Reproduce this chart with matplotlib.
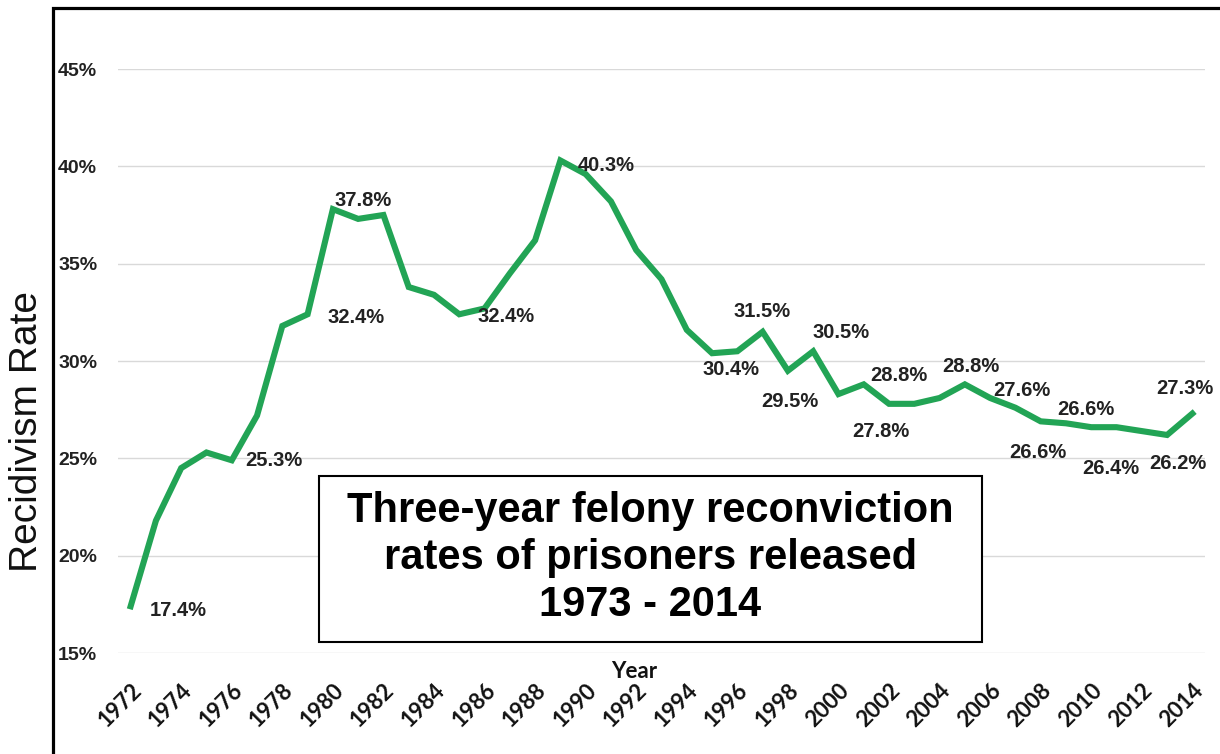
import matplotlib
matplotlib.use('Agg')
import matplotlib.pyplot as plt
from matplotlib.patches import Rectangle

# --- data ---
years = list(range(1972, 2015))
rates = [17.4, 21.8, 24.5, 25.3, 24.9, 27.2, 31.8, 32.4, 37.8, 37.3,
         37.5, 33.8, 33.4, 32.4, 32.7, 34.5, 36.2, 40.3, 39.6, 38.2,
         35.7, 34.2, 31.6, 30.4, 30.5, 31.5, 29.5, 30.5, 28.3, 28.8,
         27.8, 27.8, 28.1, 28.8, 28.1, 27.6, 26.9, 26.8, 26.6, 26.6,
         26.4, 26.2, 27.3]
y_ticks = [15, 20, 25, 30, 35, 40, 45]
y_ticklabels = ['15%', '20%', '25%', '30%', '35%', '40%', '45%']
x_ticks = list(range(1972, 2015, 2))
x_ticklabels = [str(y) for y in x_ticks]

# data labels: year the label belongs to and its text
label_years = [1972, 1976, 1979, 1980, 1986, 1989, 1995, 1997, 1998, 1999,
               2001, 2002, 2005, 2007, 2008, 2010, 2012, 2013, 2014]
label_texts = ['17.4%', '25.3%', '32.4%', '37.8%', '32.4%', '40.3%', '30.4%',
               '31.5%', '29.5%', '30.5%', '28.8%', '27.8%', '28.8%', '27.6%',
               '26.6%', '26.6%', '26.4%', '26.2%', '27.3%']
# where each label sits relative to its point (pixels, y up)
label_offsets = [(48, -4), (42, 0), (48, -3), (30, 9), (22, -8), (46, -5),
                 (19, -16), (-1, 20), (2, -31), (28, 19), (35, 9), (-8, -28),
                 (6, 18), (6, 17), (-3, -31), (-5, 18), (-31, -37), (11, -29),
                 (-7, 25)]

title = 'Three-year felony reconviction\nrates of prisoners released\n1973 - 2014'

W, H = 1220, 754
fig = plt.figure(figsize=(W / 100, H / 100), dpi=100)
fig.patch.set_facecolor('white')

# plot area in pixel terms -> figure fractions
left, right, top, bottom = 118, 1205, 69, 653
ax = fig.add_axes([left / W, 1 - bottom / H, (right - left) / W, (bottom - top) / H])

ax.plot(years, rates, color='#22a455', lw=4.4, solid_joinstyle='miter', zorder=3)

ax.set_xlim(1971.5, 2014.5)
ax.set_ylim(15, 45)
ax.set_yticks(y_ticks, labels=y_ticklabels, fontsize=14, fontweight='bold',
              family='Liberation Sans', color='#222222')
ax.set_xticks(x_ticks, labels=x_ticklabels, fontsize=16, fontweight='bold',
              family='Lato', color='#111111', rotation=45, ha='right', va='top',
              rotation_mode='anchor')
ax.grid(axis='y', color='#d9d9d9', lw=1.0)
ax.set_axisbelow(True)
for s in ax.spines.values():
    s.set_visible(False)

ax.tick_params(axis='y', length=0, pad=15)
ax.tick_params(axis='x', length=0, pad=19)

# data labels
for yr, txt, off in zip(label_years, label_texts, label_offsets):
    v = rates[years.index(yr)]
    ax.annotate(txt, xy=(yr, v), xytext=off, textcoords='offset pixels',
                ha='center', va='center', fontsize=14.5, fontweight='bold',
                family='Liberation Sans', color='#222222', zorder=4)

# axis titles
fig.text(27 / W, 1 - 432 / H, 'Recidivism Rate', rotation=90, ha='center', va='center',
         fontsize=28, family='Liberation Sans', color='#111111')
fig.text(634 / W, 1 - 671 / H, 'Year', ha='center', va='center',
         fontsize=16, family='Lato', fontweight='bold', color='#111111')

# title box
bx0, by0, bx1, by1 = 319, 476, 982, 642
fig.patches.append(Rectangle((bx0 / W, 1 - by1 / H), (bx1 - bx0) / W, (by1 - by0) / H,
                             transform=fig.transFigure, facecolor='white',
                             edgecolor='black', lw=1.5, zorder=5))
fig.text((bx0 + bx1) / 2 / W, 1 - 558 / H, title, ha='center', va='center',
         fontsize=30, fontweight='bold', family='Liberation Sans',
         linespacing=1.22, zorder=6)

# outer frame (runs off the right and bottom edge)
fig.patches.append(Rectangle((53 / W, -0.05), 1.2, 1.05 - 8 / H,
                             transform=fig.transFigure, fill=False,
                             edgecolor='black', lw=2.3, zorder=1))

fig.savefig('out.png', dpi=100)
